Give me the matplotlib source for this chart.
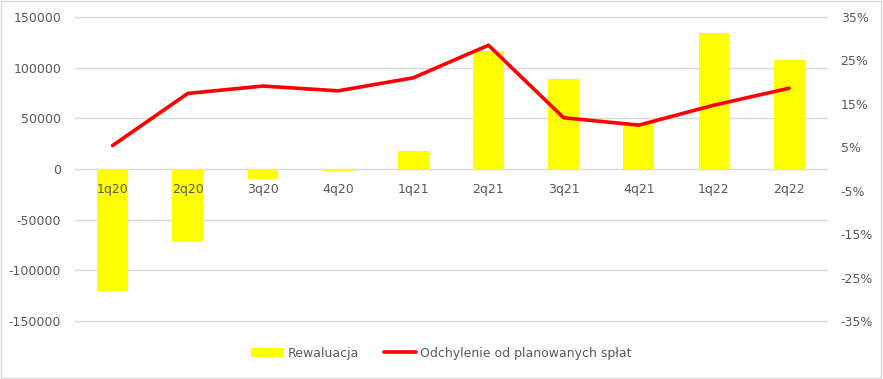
import matplotlib.pyplot as plt
import numpy as np

quarters = ['1q20', '2q20', '3q20', '4q20', '1q21', '2q21', '3q21', '4q21', '1q22', '2q22']
rewaluacja = [-120000, -71000, -10000, -2000, 18000, 116000, 88500, 45000, 134500, 108000]
odchylenie = [5.4, 17.4, 19.1, 18.0, 21.0, 28.5, 11.8, 10.1, 14.7, 18.6]

left_ticks = [-150000, -100000, -50000, 0, 50000, 100000, 150000]
right_ticks = [-35, -25, -15, -5, 5, 15, 25, 35]

txt = '#595959'
plt.rcParams['font.family'] = ['DejaVu Sans']

fig = plt.figure(figsize=(8.83, 3.79), dpi=100)
ax = fig.add_axes([75/883, 1-321/379, (826.7-75)/883, 304/379])
x = np.arange(len(quarters))

ax.bar(x, rewaluacja, width=0.41, color='#ffff00', label='Rewaluacja', zorder=2)
ax.set_ylim(-150000, 150000)
ax.set_xlim(-0.5, len(quarters)-0.5)
ax.set_yticks(left_ticks)
ax.set_yticklabels([str(t) for t in left_ticks])
ax.grid(axis='y', color='#d9d9d9', linewidth=1, zorder=0)
for gl in ax.get_ygridlines():
    gl.set_clip_on(False)
ax.set_axisbelow(True)
for s in ax.spines.values():
    s.set_visible(False)
ax.tick_params(axis='x', length=0, labelbottom=False)
ax.tick_params(axis='y', length=0, colors=txt, labelsize=9, pad=10)

ax2 = ax.twinx()
ax2.plot(x, odchylenie, color='#ff0000', linewidth=2.6, label='Odchylenie od planowanych spłat',
         solid_capstyle='round', zorder=3)
ax2.set_ylim(-35, 35)
ax2.set_yticks(right_ticks)
ax2.set_yticklabels([f'{t}%' for t in right_ticks])
for s in ax2.spines.values():
    s.set_visible(False)
ax2.tick_params(axis='y', length=0, colors=txt, labelsize=9, pad=10)

# category labels sit on the zero line, above the bars
ax2.xaxis.set_visible(True)
ax2.spines['bottom'].set_position(('data', 0))
ax2.xaxis.set_ticks_position('bottom')
ax2.set_xticks(x)
ax2.set_xticklabels(quarters)
ax2.tick_params(axis='x', length=0, colors=txt, labelsize=9, pad=10)

h1, l1 = ax.get_legend_handles_labels()
h2, l2 = ax2.get_legend_handles_labels()
fig.legend(h1 + h2, l1 + l2, loc='center', bbox_to_anchor=(0.5, 1-353/379), ncol=2,
           frameon=False, fontsize=9, labelcolor=txt, handlelength=2.6, handletextpad=0.3,
           columnspacing=2.0)

fig.add_artist(plt.Rectangle((0.001, 0.002), 0.997, 0.995, transform=fig.transFigure,
                             fill=False, edgecolor='#d9d9d9', linewidth=1))

fig.savefig('out.png', dpi=100)
